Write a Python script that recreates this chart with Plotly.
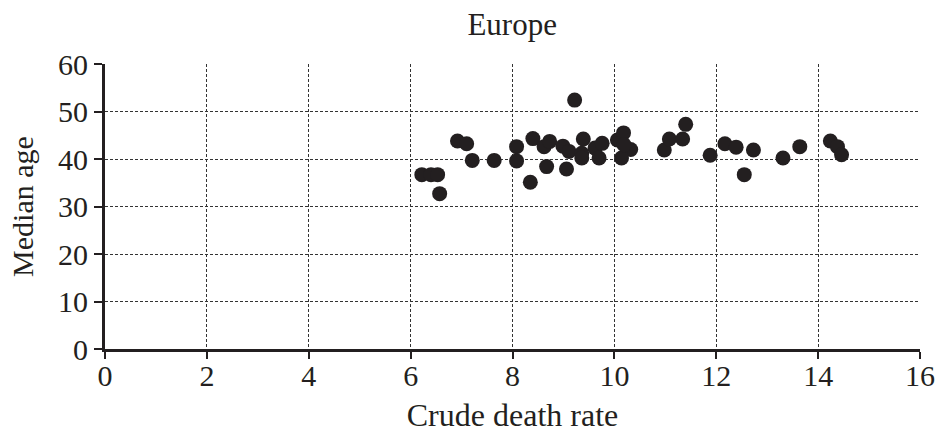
import plotly.graph_objects as go

death_rate = [6.22, 6.40, 6.53, 6.57, 6.92, 7.10, 7.21, 7.64, 8.08, 8.08, 8.35, 8.40,
              8.62, 8.73, 8.67, 8.99, 9.11, 9.06, 9.22, 9.39, 9.36, 9.36, 9.62, 9.76,
              9.70, 10.06, 10.18, 10.32, 10.14, 10.19, 10.98, 11.08, 11.40, 11.34,
              11.88, 12.17, 12.39, 12.55, 12.73, 13.31, 13.64, 14.24, 14.38, 14.46]
median_age = [36.7, 36.7, 36.7, 32.7, 43.8, 43.2, 39.7, 39.7, 42.6, 39.6, 35.1, 44.3,
              42.6, 43.7, 38.4, 42.7, 41.6, 37.9, 52.4, 44.2, 41.2, 40.2, 42.3, 43.3,
              40.2, 44.0, 45.5, 42.0, 40.2, 43.0, 41.9, 44.2, 47.3, 44.2,
              40.8, 43.2, 42.5, 36.7, 41.9, 40.2, 42.6, 43.8, 42.6, 40.9]

x_ticks = [0, 2, 4, 6, 8, 10, 12, 14, 16]
y_ticks = [0, 10, 20, 30, 40, 50, 60]

font_family = "Liberation Serif, Times New Roman, serif"

fig = go.Figure()
fig.add_trace(go.Scatter(
    x=death_rate, y=median_age, mode="markers",
    marker=dict(size=15, color="#231f20", line=dict(width=0)),
    showlegend=False, cliponaxis=False,
))

fig.update_layout(
    width=938, height=437,
    margin=dict(l=104.5, r=18, t=64, b=87.7, autoexpand=False),
    paper_bgcolor="white", plot_bgcolor="white",
    font=dict(family=font_family, size=30, color="#231f20"),
    title=dict(text="Europe", x=0.546, xanchor="center", y=0.945, yanchor="middle",
               font=dict(family=font_family, size=31, color="#231f20")),
    xaxis=dict(
        range=[0, 16], tickvals=x_ticks, ticktext=[str(v) for v in x_ticks],
        showgrid=True, gridcolor="#333333", gridwidth=1, griddash="3px,2px",
        showline=True, linecolor="#231f20", linewidth=3,
        ticks="outside", ticklen=7, tickwidth=2, tickcolor="#231f20",
        zeroline=False, automargin=False, ticklabelstandoff=-9,
        title=dict(text="Crude death rate", standoff=13,
                   font=dict(family=font_family, size=32)),
        tickfont=dict(size=30),
    ),
    yaxis=dict(
        range=[0, 60], tickvals=y_ticks, ticktext=[str(v) for v in y_ticks],
        showgrid=True, gridcolor="#333333", gridwidth=1, griddash="3px,2px",
        showline=True, linecolor="#231f20", linewidth=3,
        ticks="outside", ticklen=8, tickwidth=2, tickcolor="#231f20",
        zeroline=False, automargin=False,
        title=dict(text="Median age", standoff=16,
                   font=dict(family=font_family, size=30)),
        tickfont=dict(size=30),
    ),
)

fig.write_html(
    "out.html",
    config={"displayModeBar": False},
    post_script="document.body.style.margin='0';document.body.style.overflow='hidden';",
)
